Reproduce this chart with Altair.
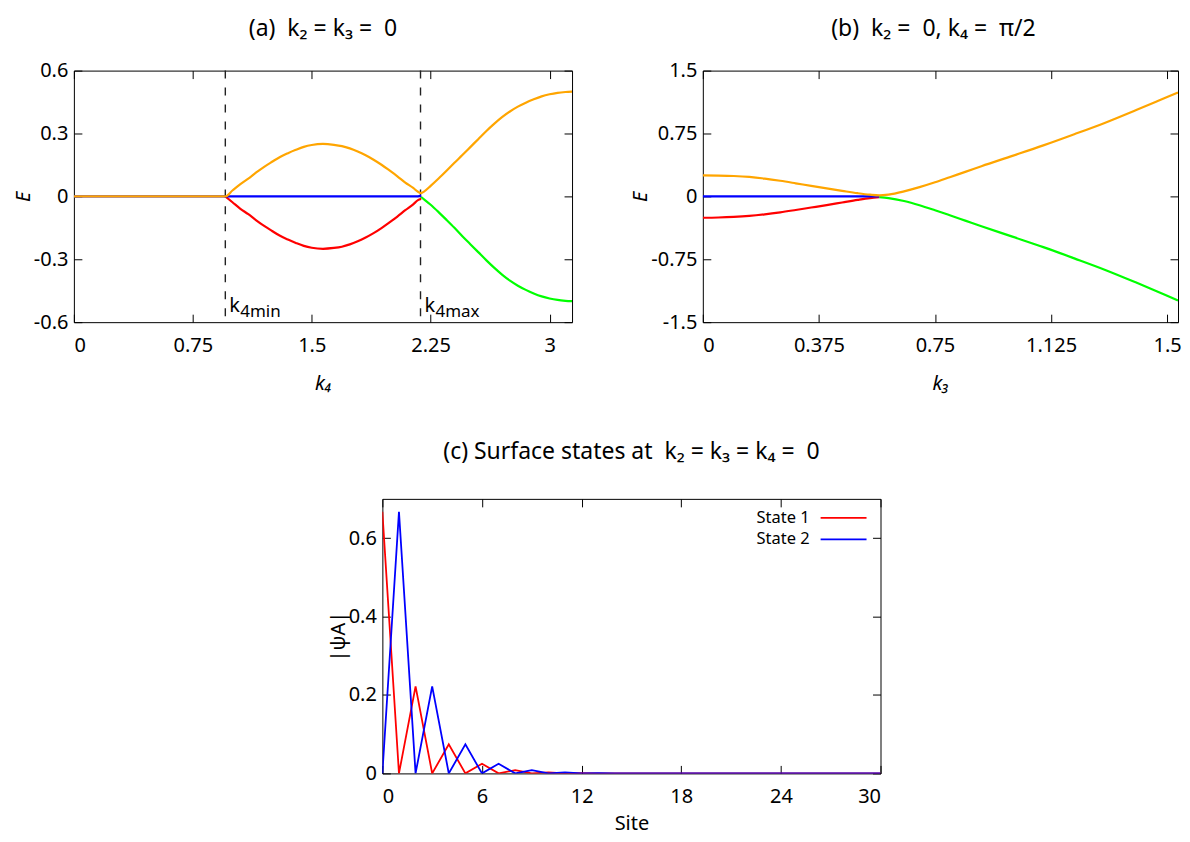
import altair as alt
import pandas as pd

FONT = "Noto Sans"
ORANGE = "#ffa500"
BLUE = "#0000ff"
RED = "#ff0000"
GREEN = "#00ff00"
SP = "\u00a0"

# ---------------- panel (a): E vs k4 at k2 = k3 = 0 ----------------
a_orange_k = [0.0, 0.955, 1.0, 1.05, 1.1, 1.15, 1.2, 1.25, 1.3, 1.35, 1.4, 1.45, 1.5, 1.5708,
              1.64, 1.69, 1.74, 1.79, 1.84, 1.89, 1.94, 1.99, 2.04, 2.09, 2.14, 2.17, 2.19, 2.21,
              2.25, 2.3, 2.35, 2.4, 2.45, 2.5, 2.55, 2.6, 2.65, 2.7, 2.75, 2.8, 2.85, 2.9, 2.95,
              3.0, 3.05, 3.1, 3.1416]
a_orange_E = [0, 0, 0.028, 0.059, 0.085, 0.114, 0.141, 0.165, 0.188, 0.206, 0.222, 0.236, 0.245, 0.25,
              0.246, 0.240, 0.229, 0.214, 0.196, 0.175, 0.151, 0.124, 0.096, 0.066, 0.040, 0.022, 0.016, 0.024,
              0.05, 0.085, 0.122, 0.16, 0.197, 0.235, 0.273, 0.311, 0.346, 0.378, 0.405, 0.428, 0.447, 0.463, 0.477,
              0.487, 0.494, 0.498, 0.5]
a_red_k = [0.955, 1.0, 1.05, 1.1, 1.15, 1.2, 1.25, 1.3, 1.35, 1.4, 1.45, 1.5, 1.5708,
           1.64, 1.69, 1.74, 1.79, 1.84, 1.89, 1.94, 1.99, 2.04, 2.09, 2.14, 2.17, 2.19]
a_red_E = [0, -0.028, -0.059, -0.085, -0.114, -0.141, -0.165, -0.188, -0.206, -0.222, -0.236, -0.245, -0.25,
           -0.246, -0.240, -0.229, -0.214, -0.196, -0.175, -0.151, -0.124, -0.096, -0.066, -0.038, -0.018, -0.012]
a_green_k = [2.19, 2.21, 2.25, 2.3, 2.35, 2.4, 2.45, 2.5, 2.55, 2.6, 2.65, 2.7, 2.75, 2.8, 2.85, 2.9, 2.95,
             3.0, 3.05, 3.1, 3.1416]
a_green_E = [-0.003, -0.015, -0.04, -0.075, -0.112, -0.15, -0.19, -0.228, -0.266, -0.304, -0.34, -0.373,
             -0.402, -0.426, -0.446, -0.463, -0.477, -0.487, -0.494, -0.498, -0.5]
a_blue_k = [0.0, 2.17, 2.19]
a_blue_E = [0, 0, 0.004]
a_marks_k = [0.955, 2.186]
a_marks_main = ["k", "k"]
a_marks_sub = ["4min", "4max"]
a_marks_E = [-0.55, -0.55]
a_xticks = [0, 0.75, 1.5, 2.25, 3]
a_yticks = [-0.6, -0.3, 0, 0.3, 0.6]

# ---------------- panel (b): E vs k3 at k2 = 0, k4 = pi/2 ----------------
b_orange_k = [0, 0.05, 0.1, 0.15, 0.2, 0.25, 0.3, 0.35, 0.4, 0.45, 0.5, 0.54, 0.57, 0.6, 0.65, 0.7,
              0.75, 0.8, 0.85, 0.9, 1.0, 1.1, 1.2, 1.3, 1.4, 1.466, 1.5, 1.535]
b_orange_E = [0.25, 0.248, 0.243, 0.232, 0.212, 0.186, 0.156, 0.125, 0.095, 0.066, 0.038, 0.02, 0.012,
              0.022, 0.06, 0.11, 0.168, 0.232, 0.295, 0.36, 0.483, 0.608, 0.741, 0.879, 1.03, 1.132, 1.185, 1.24]
b_red_k = [0, 0.05, 0.1, 0.15, 0.2, 0.25, 0.3, 0.35, 0.4, 0.45, 0.5, 0.54, 0.57]
b_red_E = [-0.255, -0.252, -0.245, -0.233, -0.214, -0.19, -0.162, -0.133, -0.104, -0.073, -0.042, -0.02, -0.008]
b_green_k = [0.57, 0.6, 0.65, 0.7, 0.75, 0.8, 0.85, 0.9, 1.0, 1.1, 1.2, 1.3, 1.4, 1.466, 1.5, 1.535]
b_green_E = [-0.008, -0.02, -0.055, -0.105, -0.165, -0.228, -0.292, -0.356, -0.48, -0.605, -0.739, -0.877,
             -1.028, -1.131, -1.186, -1.243]
b_blue_k = [0, 0.57]
b_blue_E = [0, 0]
b_xticks = [0, 0.375, 0.75, 1.125, 1.5]
b_yticks = [-1.5, -0.75, 0, 0.75, 1.5]

# ---------------- panel (c): surface states ----------------
c_sites = list(range(31))
c_state1 = [0.667, 0, 0.222, 0, 0.074, 0, 0.0247, 0, 0.0082, 0, 0.0027, 0, 0.0009, 0, 0.0003, 0, 0.0001,
            0, 0, 0, 0, 0, 0, 0, 0, 0, 0, 0, 0, 0, 0]
c_state2 = [0, 0.667, 0, 0.222, 0, 0.074, 0, 0.0247, 0, 0.0082, 0, 0.0027, 0, 0.0009, 0, 0.0003, 0,
            0.0001, 0, 0, 0, 0, 0, 0, 0, 0, 0, 0, 0, 0, 0]
c_names = ["State 1", "State 2"]
c_xticks = [0, 6, 12, 18, 24, 30]
c_yticks = [0, 0.2, 0.4, 0.6]

LABEL_EXPR = "replace(format(datum.value, '~g'), '\u2212', '-')"
TICK = 8


def frame(x, y, **kw):
    return pd.DataFrame({"x": x, "y": y, **kw})


def panel(build, first_df, xdom, ydom, xticks, yticks, xtitle, ytitle, w, h, title,
          title_offset, italic=True, title_dx=0, xtitle_pad=18):
    xs = alt.Scale(domain=xdom, nice=False, zero=False)
    ys = alt.Scale(domain=ydom, nice=False, zero=False)
    style = "italic" if italic else "normal"
    xa = alt.Axis(values=xticks, title=xtitle, labelExpr=LABEL_EXPR, offset=-TICK,
                  tickSize=TICK, domain=False, grid=False, labelPadding=13, titlePadding=xtitle_pad,
                  titleFontStyle=style)
    ya = alt.Axis(values=yticks, title=ytitle, labelExpr=LABEL_EXPR, offset=-TICK,
                  tickSize=TICK, domain=False, grid=False, labelPadding=6, titlePadding=0,
                  titleFontStyle=style)
    X = alt.X("x:Q", scale=xs, axis=xa)
    Y = alt.Y("y:Q", scale=ys, axis=ya)
    main = alt.layer(*build(X, Y))
    xt = alt.Axis(orient="top", values=xticks, labels=False, domain=False, tickSize=TICK,
                  offset=-TICK, grid=False, title=None)
    yr = alt.Axis(orient="right", values=yticks, labels=False, domain=False, tickSize=TICK,
                  offset=-TICK, grid=False, title=None)
    dummy = alt.Chart(first_df).mark_line(strokeOpacity=0).encode(
        x=alt.X("x:Q", scale=xs, axis=xt), y=alt.Y("y:Q", scale=ys, axis=yr))
    return alt.layer(main, dummy).resolve_axis(x="independent", y="independent").properties(
        width=w, height=h,
        title=alt.Title(title, fontSize=23, font=FONT, fontWeight="normal", offset=title_offset,
                        anchor="middle", dx=title_dx, color="black"))


def curve(df, color, X, Y, sw=2.2):
    return alt.Chart(df).mark_line(color=color, strokeWidth=sw, interpolate="monotone", clip=True).encode(x=X, y=Y)


# panel a
da_orange = frame(a_orange_k, a_orange_E)
da_red = frame(a_red_k, a_red_E)
da_green = frame(a_green_k, a_green_E)
da_blue = frame(a_blue_k, a_blue_E)
da_marks = pd.DataFrame({"x": a_marks_k, "y": a_marks_E, "main": a_marks_main, "sub": a_marks_sub})


def build_a(X, Y):
    rules = alt.Chart(da_marks).mark_rule(color="#222222", strokeWidth=1.4, strokeDash=[8, 9]).encode(x=X)
    t_main = alt.Chart(da_marks).mark_text(align="left", baseline="alphabetic", dx=4, fontSize=20,
                                           font=FONT, color="black").encode(x=X, y=Y, text="main:N")
    t_sub = alt.Chart(da_marks).mark_text(align="left", baseline="alphabetic", dx=15, dy=5, fontSize=17,
                                          font=FONT, color="black").encode(x=X, y=Y, text="sub:N")
    return [rules, curve(da_red, RED, X, Y), curve(da_green, GREEN, X, Y), curve(da_blue, BLUE, X, Y),
            curve(da_orange, ORANGE, X, Y), t_main, t_sub]


pa = panel(build_a, da_orange, [0, 3.1416], [-0.6, 0.6], a_xticks, a_yticks, "k\u2084", "E", 499, 252,
           f"(a){SP}{SP}k\u2082 = k\u2083 ={SP}{SP}0", 20)

# panel b
db_orange = frame(b_orange_k, b_orange_E)
db_red = frame(b_red_k, b_red_E)
db_green = frame(b_green_k, b_green_E)
db_blue = frame(b_blue_k, b_blue_E)


def build_b(X, Y):
    return [curve(db_red, RED, X, Y), curve(db_green, GREEN, X, Y), curve(db_blue, BLUE, X, Y),
            curve(db_orange, ORANGE, X, Y)]


pb = panel(build_b, db_orange, [0, 1.535], [-1.5, 1.5], b_xticks, b_yticks, "k\u2083", "E", 476, 252,
           f"(b){SP}{SP}k\u2082 ={SP}{SP}0, k\u2084 ={SP}{SP}\u03c0/2", 20, title_dx=-7)

# panel c
dc1 = pd.DataFrame({"x": c_sites, "y": c_state1, "state": c_names[0]})
dc2 = pd.DataFrame({"x": c_sites, "y": c_state2, "state": c_names[1]})

legend = alt.Legend(orient="none", legendX=762, legendY=439, title=None, symbolType="M-3,0H3",
                    symbolSize=235, symbolStrokeWidth=1.8, labelAlign="right", labelOffset={"expr": "-43"},
                    labelFontSize=16.5, labelFont=FONT, labelColor="black", rowPadding=3.5, padding=0)
cscale = alt.Scale(domain=c_names, range=[RED, BLUE])


def build_c(X, Y):
    out = []
    for d in (dc1, dc2):
        out.append(alt.Chart(d).mark_line(strokeWidth=1.8, clip=True).encode(
            x=X, y=Y, color=alt.Color("state:N", scale=cscale, legend=legend)))
    return out


pc = panel(build_c, dc1, [0, 30], [0, 0.7], c_xticks, c_yticks, "Site", "|\u03c8A|", 499, 275,
           f"(c) Surface states at{SP}{SP}k\u2082 = k\u2083 = k\u2084 ={SP}{SP}0", 34, italic=False,
           xtitle_pad=7)

spacer = alt.Chart(pd.DataFrame({"a": [0]})).mark_point(opacity=0).properties(
    width=254, height=1, view=alt.ViewBackground(strokeOpacity=0))

top = alt.hconcat(pa, pb, spacing=57)
bottom = alt.hconcat(spacer, pc, spacing=0)
chart = alt.vconcat(top, bottom, spacing=47).properties(
    padding={"top": 8, "left": 4, "right": 0, "bottom": 0}
).configure(
    font=FONT
).configure_view(stroke="black", strokeWidth=1).configure_axis(
    labelFont=FONT, labelFontSize=20, labelColor="black", titleFont=FONT, titleFontSize=20,
    titleFontWeight="normal", titleColor="black", tickColor="black", tickWidth=1
)

chart.save("out.html", embed_options={"renderer": "svg", "actions": False})
